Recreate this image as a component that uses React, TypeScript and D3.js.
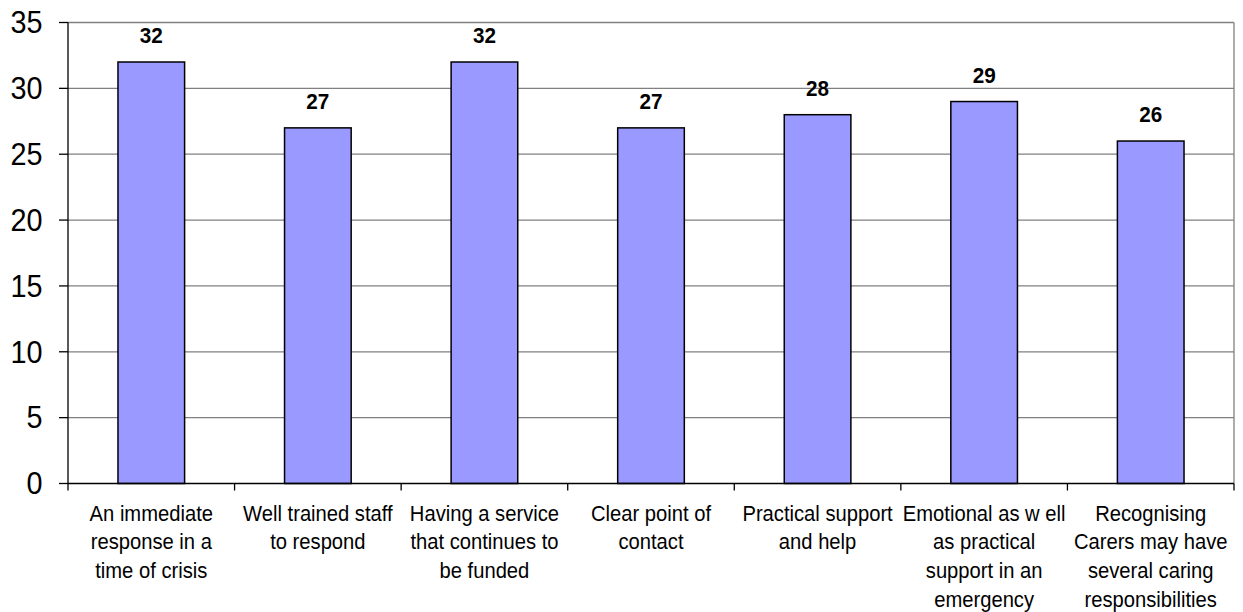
import React from "react";
import * as d3 from "d3";

const categories: string[][] = [
  ["An immediate", "response in a", "time of crisis"],
  ["Well trained staff", "to respond"],
  ["Having a service", "that continues to", "be funded"],
  ["Clear point of", "contact"],
  ["Practical support", "and help"],
  ["Emotional as w ell", "as practical", "support in an", "emergency"],
  ["Recognising", "Carers may have", "several caring", "responsibilities"],
];
const values: number[] = [32, 27, 32, 27, 28, 29, 26];
const yTicks: number[] = [0, 5, 10, 15, 20, 25, 30, 35];

const W = 1243;
const H = 612;
const left = 68;
const right = 1234;
const top = 22.5;
const bottom = 483.5;
const SY = 1.09;

function T(props: {
  x: number;
  y: number;
  size: number;
  anchor: "start" | "middle" | "end";
  bold?: boolean;
  children: React.ReactNode;
}) {
  return (
    <text
      transform={`translate(${props.x},${props.y}) scale(1,${SY})`}
      textAnchor={props.anchor}
      fontSize={props.size}
      fontWeight={props.bold ? "bold" : "normal"}
      fill="#000"
    >
      {props.children}
    </text>
  );
}

export default function App() {
  const x = d3
    .scaleBand<number>()
    .domain(d3.range(values.length))
    .range([left, right])
    .paddingInner(0)
    .paddingOuter(0);
  const y = d3.scaleLinear().domain([0, 35]).range([bottom, top]);
  const bw = x.bandwidth() * 0.4;
  const font = "'Liberation Sans', Arial, sans-serif";

  return (
    <svg
      width={W}
      height={H}
      style={{ position: "absolute", left: 0, top: 0 }}
      fontFamily={font}
    >
      <rect x={0} y={0} width={W} height={H} fill="#fff" />
      {yTicks.map((t) => (
        <g key={t}>
          {t > 0 && (
            <line
              x1={left}
              x2={right}
              y1={y(t)}
              y2={y(t)}
              stroke="#808080"
              strokeWidth={1.3}
            />
          )}
          <line x1={59} x2={left} y1={y(t)} y2={y(t)} stroke="#000" strokeWidth={1.3} />
          <T x={42.5} y={y(t) + 10.8} size={28.8} anchor="end">
            {t}
          </T>
        </g>
      ))}
      <line x1={right} x2={right} y1={top} y2={bottom} stroke="#808080" strokeWidth={1.3} />
      {values.map((v, i) => {
        const cx = (x(i) as number) + x.bandwidth() / 2;
        return (
          <g key={i}>
            <rect
              x={cx - bw / 2}
              y={y(v)}
              width={bw}
              height={bottom - y(v)}
              fill="#9999FF"
              stroke="#000"
              strokeWidth={1.5}
            />
            <T x={cx} y={y(v) - 19} size={20.7} anchor="middle" bold>
              {v}
            </T>
            {categories[i].map((line, j) => (
              <T key={j} x={cx} y={520.7 + j * 28.6} size={20.2} anchor="middle">
                {line}
              </T>
            ))}
          </g>
        );
      })}
      {d3.range(values.length + 1).map((i) => {
        const xx = i < values.length ? (x(i) as number) : right;
        return (
          <line key={i} x1={xx} x2={xx} y1={bottom} y2={bottom + 7} stroke="#000" strokeWidth={1.3} />
        );
      })}
      <line x1={left} x2={left} y1={top} y2={bottom} stroke="#000" strokeWidth={1.3} />
      <line x1={left} x2={right} y1={bottom} y2={bottom} stroke="#000" strokeWidth={1.3} />
    </svg>
  );
}
